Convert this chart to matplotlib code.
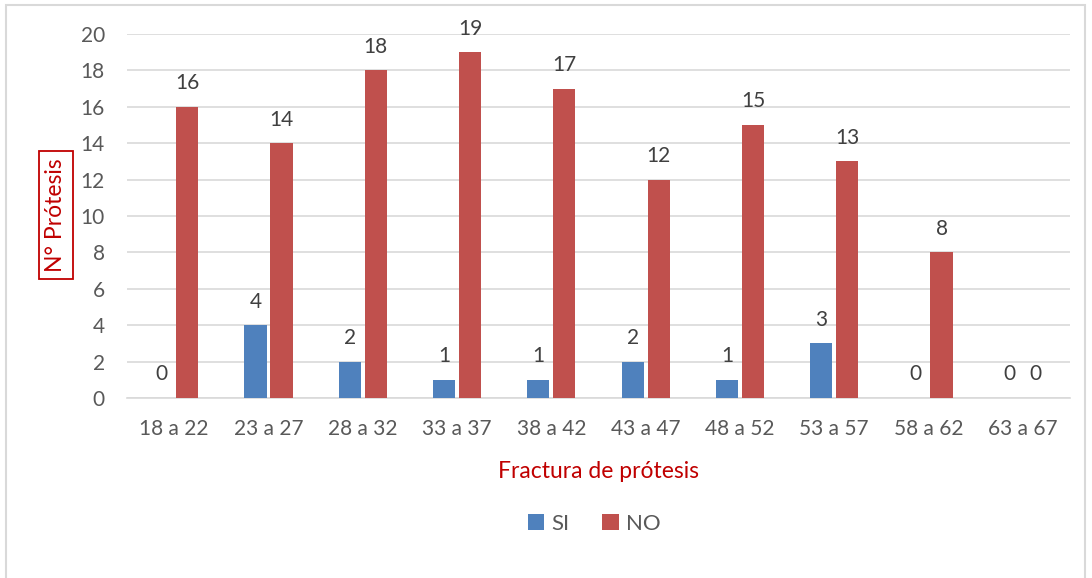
import matplotlib
matplotlib.use("Agg")
import matplotlib.pyplot as plt
from matplotlib.patches import Rectangle
import numpy as np

plt.rcParams['font.family'] = ['Lato', 'DejaVu Sans']

categories = ["18 a 22", "23 a 27", "28 a 32", "33 a 37", "38 a 42",
              "43 a 47", "48 a 52", "53 a 57", "58 a 62", "63 a 67"]
si_values = [0, 4, 2, 1, 1, 2, 1, 3, 0, 0]
no_values = [16, 14, 18, 19, 17, 12, 15, 13, 8, 0]

BLUE = "#4F81BD"
RED = "#C0504D"
DARKRED = "#C00000"
TICK = "#595959"
LABEL = "#404040"

W, H, DPI = 1092, 578, 100
fig = plt.figure(figsize=(W / DPI, H / DPI), dpi=DPI)

# chart-area frame
fig.patches.append(Rectangle((6 / W, -0.01), (1085 - 6) / W, 1 - 5 / H + 0.01,
                             transform=fig.transFigure, fill=False,
                             edgecolor="#D9D9D9", linewidth=1.5))

left, right, top, bottom = 127, 1070, 34, 398
ax = fig.add_axes([left / W, 1 - bottom / H, (right - left) / W, (bottom - top) / H])

x = np.arange(len(categories))
bw = 0.235
off = 0.138
b1 = ax.bar(x - off, si_values, bw, color=BLUE, label="SI", zorder=3)
b2 = ax.bar(x + off, no_values, bw, color=RED, label="NO", zorder=3)

for bars, vals in ((b1, si_values), (b2, no_values)):
    for rect, v in zip(bars, vals):
        ax.text(rect.get_x() + rect.get_width() / 2, v + 0.75, f"{v}",
                ha="center", va="bottom", fontsize=15, color=LABEL)

ax.set_xlim(-0.5, len(categories) - 0.5)
ax.set_ylim(0, 20)
ax.set_yticks(np.arange(0, 21, 2))
ax.set_xticks(x)
ax.set_xticklabels(categories)
ax.yaxis.grid(True, color="#D9D9D9", linewidth=1.2, zorder=0)
ax.set_axisbelow(True)
for s in ("top", "right", "left"):
    ax.spines[s].set_visible(False)
ax.spines["bottom"].set_color("#D9D9D9")
ax.spines["bottom"].set_linewidth(1.2)
ax.tick_params(axis="both", length=0, labelsize=15, labelcolor=TICK)
ax.tick_params(axis="y", pad=16)
ax.tick_params(axis="x", pad=15)

ax.set_xlabel("Fractura de prótesis", fontsize=16.5, color=DARKRED, labelpad=16)
fig.text(56 / W, 1 - 215 / H, "N° Prótesis", rotation=90, ha="center", va="center",
         fontsize=16.5, color=DARKRED,
         bbox=dict(boxstyle="square,pad=0.3", facecolor="white",
                   edgecolor=DARKRED, linewidth=1.3))

fig.legend(handles=[b1, b2], labels=["SI", "NO"], loc="center",
           bbox_to_anchor=(594 / W, 1 - 524 / H), ncol=2, frameon=False,
           fontsize=16, handlelength=0.75, handleheight=0.75, handletextpad=0.3,
           columnspacing=1.5, labelcolor=TICK)

fig.savefig("out.png", dpi=DPI, facecolor="white")
